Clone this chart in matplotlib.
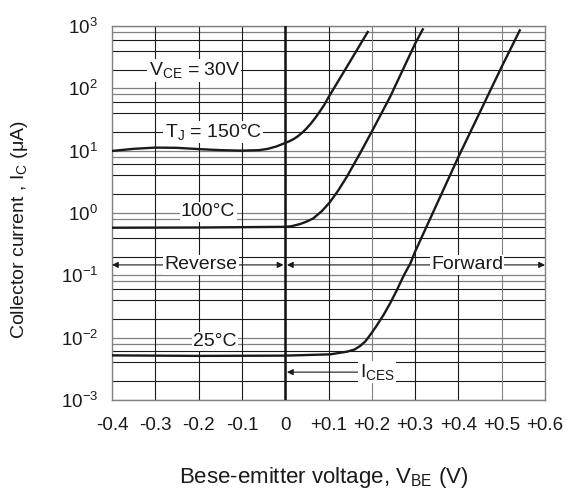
import numpy as np
import matplotlib.pyplot as plt
from matplotlib.ticker import FixedLocator, FixedFormatter

plt.rcParams['font.family'] = ['Liberation Sans', 'DejaVu Sans']
plt.rcParams['mathtext.fontset'] = 'custom'
plt.rcParams['mathtext.rm'] = 'Liberation Sans'
plt.rcParams['mathtext.it'] = 'Liberation Sans:italic'

# base-emitter voltage (V) and collector current (uA) for each junction temperature
v_150 = [-0.40, -0.35, -0.30, -0.25, -0.20, -0.15, -0.10, -0.06, -0.04, -0.02, 0.00,
         0.01, 0.02, 0.03, 0.04, 0.05, 0.06, 0.07, 0.08, 0.09, 0.10, 0.1425, 0.192]
i_150 = [9.9, 10.7, 11.2, 11.1, 10.6, 10.2, 10.0, 10.2, 10.7, 11.7, 13.3,
         14.2, 15.4, 17.2, 19.6, 23.0, 27.6, 33.9, 42.6, 54.0, 72.0, 222.0, 832.0]

v_100 = [-0.40, -0.20, 0.00, 0.015, 0.035, 0.05, 0.065, 0.085, 0.1025, 0.1225,
         0.1425, 0.173, 0.20, 0.2425, 0.30, 0.319]
i_100 = [0.58, 0.585, 0.60, 0.615, 0.667, 0.73, 0.82, 1.08, 1.47, 2.3,
         3.83, 9.1, 20.2, 73.5, 520.0, 918.0]

v_25 = [-0.40, -0.20, 0.00, 0.104, 0.1425, 0.16, 0.173, 0.185, 0.196, 0.21, 0.227,
        0.243, 0.258, 0.274, 0.289, 0.30, 0.40, 0.50, 0.543]
i_25 = [5.2e-3, 5.1e-3, 5.15e-3, 5.4e-3, 5.96e-3, 6.45e-3, 7.35e-3, 8.7e-3, 0.011,
        0.0151, 0.0231, 0.0363, 0.0582, 0.10, 0.155, 0.24, 7.93, 222.0, 885.0]

x_ticks = [-0.4, -0.3, -0.2, -0.1, 0.0, 0.1, 0.2, 0.3, 0.4, 0.5, 0.6]
x_labels = ['-0.4', '-0.3', '-0.2', '-0.1', '0', '+0.1', '+0.2', '+0.3', '+0.4', '+0.5', '+0.6']
y_exps = [-3, -2, -1, 0, 1, 2, 3]

fig = plt.figure(figsize=(5.67, 4.92), dpi=100)
ax = fig.add_axes([112 / 567, 1 - 400 / 492, 433 / 567, 374 / 492])
ax.set_yscale('log')
ax.set_xlim(-0.4, 0.6)
ax.set_ylim(1e-3, 1e3)

# grid: decades and 8x lines light grey, 2/4/6 lines dark
for e in y_exps[:-1]:
    for k in [2, 4, 6]:
        ax.axhline(k * 10.0 ** e, color='#1a1a1a', lw=0.8, zorder=1)
    ax.axhline(8 * 10.0 ** e, color='#808080', lw=0.9, zorder=1)
for e in y_exps:
    ax.axhline(10.0 ** e, color='#808080', lw=0.9, zorder=1)
for xv in x_ticks[1:-1]:
    col = '#808080' if xv in (0.2, 0.5) else '#1a1a1a'
    ax.axvline(xv, color=col, lw=0.8, zorder=1)
ax.axvline(0.0, color='#111111', lw=1.8, zorder=3)

for v, i in [(v_150, i_150), (v_100, i_100), (v_25, i_25)]:
    ax.plot(v, i, color='#1a1a1a', lw=1.7, solid_capstyle='butt',
            solid_joinstyle='round', zorder=4)

for s in ax.spines.values():
    s.set_color('#808080')
    s.set_linewidth(1.0)

ax.xaxis.set_major_locator(FixedLocator(x_ticks))
ax.xaxis.set_major_formatter(FixedFormatter(x_labels))
ax.yaxis.set_major_locator(FixedLocator([10.0 ** e for e in y_exps]))
ax.yaxis.set_major_formatter(FixedFormatter([r'$\mathregular{10^{%d}}$' % e for e in y_exps]))
ax.yaxis.set_minor_locator(FixedLocator([]))
ax.tick_params(axis='x', length=0, pad=12, labelsize=13.5, colors='#1a1a1a')
ax.tick_params(axis='y', length=0, pad=10, labelsize=13.5, colors='#1a1a1a')

box = dict(facecolor='white', edgecolor='none', pad=1.0)
txt = dict(fontsize=14, color='#1a1a1a', ha='center', va='center', bbox=box, zorder=5)
ax.text(-0.21, 195, r'V$_{\mathregular{CE}}$ = 30V', **txt)
ax.text(-0.166, 20, r'T$_{\mathregular{J}}$ = 150°C', **txt)
ax.text(-0.178, 1.05, '100°C', **txt)
ax.text(-0.162, 8.7e-3, '25°C', **txt)

arrow = dict(arrowstyle='<|-|>', color='#1a1a1a', lw=0.8, shrinkA=0, shrinkB=0,
             mutation_scale=9)
ax.annotate('', xy=(-0.4, 0.147), xytext=(-0.004, 0.147), arrowprops=arrow, zorder=5)
ax.annotate('', xy=(0.004, 0.147), xytext=(0.6, 0.147), arrowprops=arrow, zorder=5)
ax.text(-0.194, 0.147, 'Reverse', **txt)
ax.text(0.42, 0.147, 'Forward', **txt)

ax.annotate('', xy=(0.004, 2.8e-3), xytext=(0.17, 2.8e-3),
            arrowprops=dict(arrowstyle='-|>', color='#1a1a1a', lw=0.8,
                            shrinkA=0, shrinkB=0, mutation_scale=9), zorder=5)
ax.text(0.172, 2.8e-3, r'I$_{\mathregular{CES}}$', fontsize=14, color='#1a1a1a',
        ha='left', va='center', bbox=box, zorder=5)

fig.text(324 / 567, 1 - 477 / 492, r'Bese-emitter voltage, V$_{\mathregular{BE}}$ (V)',
         fontsize=16, color='#1a1a1a', ha='center', va='center')
fig.text(20 / 567, 1 - 230 / 492, r'Collector current , I$_{\mathregular{C}}$ (μA)',
         fontsize=14, color='#1a1a1a', ha='center', va='center', rotation=90)

fig.savefig('out.png', dpi=100)
